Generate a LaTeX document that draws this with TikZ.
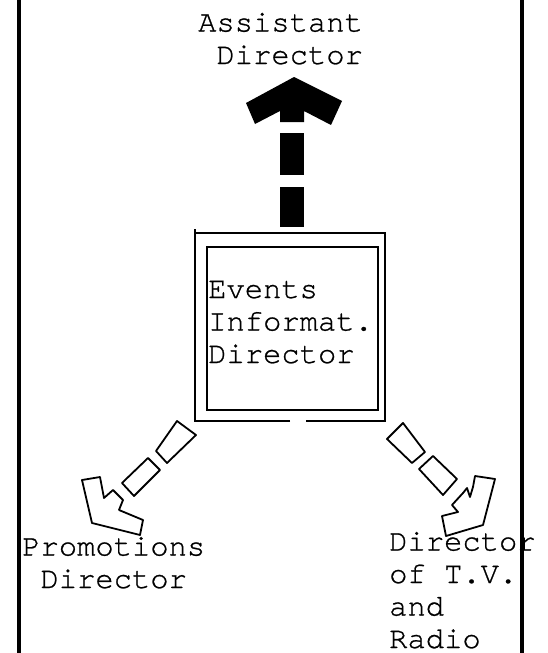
\documentclass[tikz,border=0pt]{standalone}
\usepackage{fontspec}
\setmonofont{TeX Gyre Cursor}[FakeBold=0.8]
\usetikzlibrary{positioning}

\tikzset{
  typed/.style={font=\ttfamily\fontsize{30.5}{32.5}\selectfont, align=left, inner sep=0pt},
  border/.style={line width=3.5pt},
  frame/.style={line width=2pt},
  hollow/.style={line width=1.8pt, line join=round},
}

\begin{document}
\begin{tikzpicture}[x=1pt, y=-1pt]
  \useasboundingbox (0,0) rectangle (547,653);
  \draw[border] (19,0) -- (19,653);
  \draw[border] (522,0) -- (522,653);

  % base anchor sits on the last line
  \node[typed, anchor=base west] (assist) at (198,64) {Assistant\\~Director};
  \node[draw, frame, minimum width=171pt, minimum height=163pt, anchor=north west, inner sep=0pt] (evbox) at (206,246) {};
  \node[typed, anchor=base west] (events) at (208,363) {Events\\Informat.\\Director};
  \node[typed, anchor=base west] (promo) at (22,588) {Promotions\\~Director};
  \node[typed, anchor=base west] (tvradio) at (389,648) {Director\\of T.V.\\and\\Radio};

  % outer frame, open at the bottom
  \draw[frame] (290,421) -- (195,421) -- (195,229) -- (195,233) -- (385,233) -- (385,421) -- (306,421);

  % up to the assistant
  \fill (280,187) rectangle (304,227);
  \fill (280,133) rectangle (304,175);
  \fill (294,77) -- (342,101) -- (331,125) -- (304,111) -- (304,122) -- (280,122) -- (280,111) -- (255,124) -- (246,103) -- cycle;

  % down-left to promotions
  \draw[hollow] (177,421) -- (196,435) -- (167,463) -- (156,451) -- cycle;
  \draw[hollow] (148,458) -- (160,470) -- (134,496) -- (122,483) -- cycle;
  \draw[hollow] (82,480) -- (100,477) -- (104,498) -- (113,490) -- (123,500) -- (119,510) -- (143,520) -- (140,535) -- (92,523) -- cycle;

  % down-right to T.V. and radio
  \draw[hollow] (403,423) -- (387,439) -- (412,463) -- (425,452) -- cycle;
  \draw[hollow] (433,456) -- (419,469) -- (443,495) -- (457,479) -- cycle;
  \draw[hollow] (475,476) -- (495,479) -- (483,525) -- (446,536) -- (442,516) -- (458,512) -- (452,505) -- (463,493) -- (467,488) -- (470,497) -- (473,487) -- cycle;
\end{tikzpicture}
\end{document}
